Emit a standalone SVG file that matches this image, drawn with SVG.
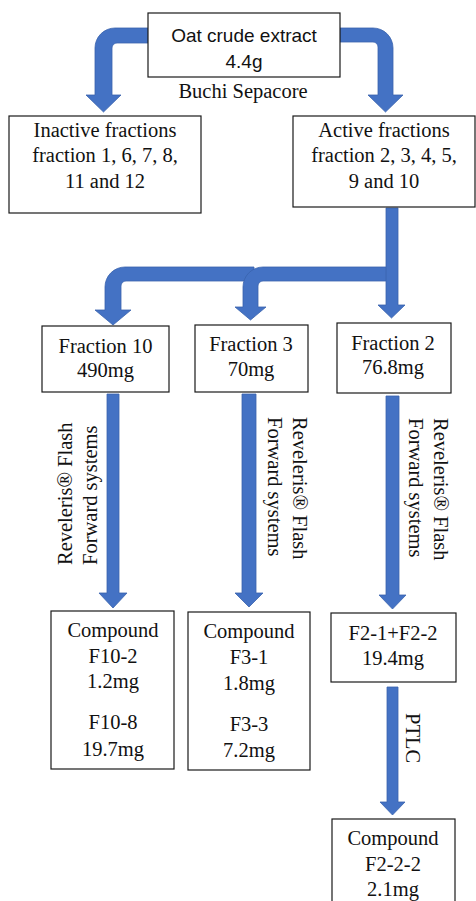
<svg xmlns="http://www.w3.org/2000/svg" width="476" height="901" viewBox="0 0 476 901">
  <style>
    .box { fill: #fff; stroke: #1a1a1a; stroke-width: 1.2; }
    .t { font-family: "Liberation Serif", "Times New Roman", serif; font-size: 20.5px; fill: #111; text-anchor: middle; }
    .ts { font-family: "Liberation Sans", Arial, sans-serif; font-size: 19px; fill: #111; text-anchor: middle; }
    .rot { font-family: "Liberation Serif", "Times New Roman", serif; font-size: 20.5px; fill: #111; }
    .arr { fill: #4472C4; stroke: #3A63AD; stroke-width: 0.8; stroke-linejoin: miter; }
  </style>

  <rect width="476" height="901" fill="#fff"/>

  <!-- connectors: block arrows -->
  <g id="connectors">
    <!-- crude extract to inactive fractions -->
    <path class="arr" d="M148,28 L115,28 A20,20 0 0 0 95,48 L95,95 L86,95 L103.5,112 L121,95 L112,95 L112,48 A5,5 0 0 1 117,43 L148,43 Z"/>
    <!-- crude extract to active fractions -->
    <path class="arr" d="M340,28 L373,28 A20,20 0 0 1 393,48 L393,95 L403,95 L385.5,112 L368,95 L378,95 L378,47 A5,5 0 0 0 373,42 L340,42 Z"/>
    <!-- active fractions branch to fraction 10 -->
    <path class="arr" d="M254,267 L125,267 A20,20 0 0 0 105,287 L105,310 L95,310 L113,325 L131,310 L121,310 L121,286 A5,5 0 0 1 126,281 L254,281 Z"/>
    <!-- active fractions branch to fraction 3 -->
    <path class="arr" d="M387,267 L263,267 A20,20 0 0 0 243,287 L243,307 L235,307 L250.5,320 L266,307 L258,307 L258,286 A5,5 0 0 1 263,281 L387,281 Z"/>
    <!-- active fractions down to fraction 2 -->
    <path class="arr" d="M386,208 L398,208 L398,305 L405,305 L391.5,318 L378,305 L386,305 Z"/>
    <!-- flash chromatography arrows -->
    <path class="arr" d="M107,394 L119,394 L119,593 L127,593 L113,608 L99,593 L107,593 Z"/>
    <path class="arr" d="M242,394 L256,394 L256,593 L263,593 L249,607 L235,593 L242,593 Z"/>
    <path class="arr" d="M386,396 L399,396 L399,595 L406,595 L392.5,609 L379,595 L386,595 Z"/>
    <!-- PTLC arrow -->
    <path class="arr" d="M387,687 L398,687 L398,802 L405,802 L392.5,815 L380,802 L387,802 Z"/>
  </g>

  <!-- edge labels -->
  <g id="labels">
    <text class="t" x="243" y="98">Buchi Sepacore</text>
    <g transform="translate(72,565) rotate(-90)"><text class="rot" x="0" y="0">Reveleris® Flash</text></g>
    <g transform="translate(97,565) rotate(-90)"><text class="rot" x="0" y="0">Forward systems</text></g>
    <g transform="translate(293,417) rotate(90)"><text class="rot" x="0" y="0">Reveleris® Flash</text></g>
    <g transform="translate(268,417) rotate(90)"><text class="rot" x="0" y="0">Forward systems</text></g>
    <g transform="translate(434,418) rotate(90)"><text class="rot" x="0" y="0">Reveleris® Flash</text></g>
    <g transform="translate(409,418) rotate(90)"><text class="rot" x="0" y="0">Forward systems</text></g>
    <g transform="translate(406,713) rotate(90)"><text class="rot" x="0" y="0">PTLC</text></g>
  </g>

  <g id="crude">
    <rect class="box" x="148" y="13" width="192" height="64"/>
    <text class="ts" x="244" y="42">Oat crude extract</text>
    <text class="ts" x="244" y="68">4.4g</text>
  </g>

  <g id="inactive">
    <rect class="box" x="9" y="116" width="192" height="97"/>
    <text class="t" x="105" y="137">Inactive fractions</text>
    <text class="t" x="105" y="162">fraction 1, 6, 7, 8,</text>
    <text class="t" x="105" y="188">11 and 12</text>
  </g>

  <g id="active">
    <rect class="box" x="293" y="116" width="182" height="91"/>
    <text class="t" x="384" y="137">Active fractions</text>
    <text class="t" x="384" y="162">fraction 2, 3, 4, 5,</text>
    <text class="t" x="384" y="188">9 and 10</text>
  </g>

  <g id="fraction10">
    <rect class="box" x="42" y="326" width="127" height="66"/>
    <text class="t" x="105.5" y="353">Fraction 10</text>
    <text class="t" x="105.5" y="377">490mg</text>
  </g>

  <g id="fraction3">
    <rect class="box" x="195" y="325" width="113" height="67"/>
    <text class="t" x="251" y="351">Fraction 3</text>
    <text class="t" x="251" y="376">70mg</text>
  </g>

  <g id="fraction2">
    <rect class="box" x="337" y="323" width="114" height="70"/>
    <text class="t" x="393" y="350">Fraction 2</text>
    <text class="t" x="393" y="374">76.8mg</text>
  </g>

  <g id="f10-compounds">
    <rect class="box" x="51" y="611" width="123" height="158"/>
    <text class="t" x="113" y="637">Compound</text>
    <text class="t" x="113" y="663">F10-2</text>
    <text class="t" x="113" y="688">1.2mg</text>
    <text class="t" x="113" y="729">F10-8</text>
    <text class="t" x="113" y="756">19.7mg</text>
  </g>

  <g id="f3-compounds">
    <rect class="box" x="188" y="612" width="122" height="158"/>
    <text class="t" x="249" y="638">Compound</text>
    <text class="t" x="249" y="664">F3-1</text>
    <text class="t" x="249" y="690">1.8mg</text>
    <text class="t" x="249" y="731">F3-3</text>
    <text class="t" x="249" y="757">7.2mg</text>
  </g>

  <g id="f2-pool">
    <rect class="box" x="331" y="613" width="125" height="69"/>
    <text class="t" x="393" y="640">F2-1+F2-2</text>
    <text class="t" x="393" y="665">19.4mg</text>
  </g>

  <g id="f2-compound">
    <rect class="box" x="332" y="819" width="123" height="100"/>
    <text class="t" x="393" y="845">Compound</text>
    <text class="t" x="393" y="871">F2-2-2</text>
    <text class="t" x="393" y="896">2.1mg</text>
  </g>
</svg>
